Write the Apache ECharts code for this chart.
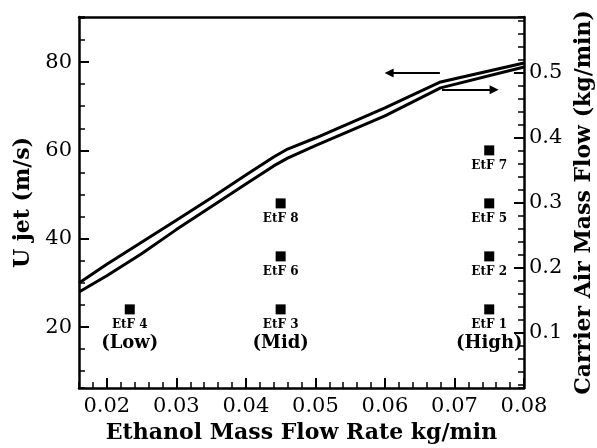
<!DOCTYPE html>
<html>
<head>
<meta charset="utf-8">
<script src="https://cdn.jsdelivr.net/npm/echarts@6/dist/echarts.min.js"></script>
<style>
html,body{margin:0;padding:0;background:#fff;}
#chart{width:597px;height:448px;}
</style>
</head>
<body>
<div id="chart"></div>
<script>
// ---- data ----
var ethanolRate = [0.016, 0.02, 0.025, 0.03, 0.035, 0.04, 0.044, 0.046, 0.05, 0.06, 0.068, 0.08];
var uJet        = [30.0, 34.2, 39.2, 44.2, 49.2, 54.4, 58.5, 60.3, 62.8, 69.6, 75.5, 79.8];
var carrierAir  = [0.163, 0.188, 0.222, 0.259, 0.294, 0.329, 0.357, 0.369, 0.388, 0.434, 0.477, 0.509];

var caseNames  = ['EtF 4', 'EtF 3', 'EtF 6', 'EtF 8', 'EtF 1', 'EtF 2', 'EtF 5', 'EtF 7'];
var caseX      = [0.0233, 0.045, 0.045, 0.045, 0.075, 0.075, 0.075, 0.075];
var caseUJet   = [24, 24, 36, 48, 24, 36, 48, 60];
var caseGroup  = ['(Low)', '(Mid)', '', '', '(High)', '', '', ''];

var leftArrowX  = [0.0679, 0.0606];
var leftArrowY  = 77.5;
var rightArrowX = [0.0682, 0.0757];
var rightArrowY = 0.474;

var xRange     = [0.016, 0.08];
var leftRange  = [6.2, 90.2];
var rightRange = [0.0154, 0.586];

var xTitle     = 'Ethanol Mass Flow Rate kg/min';
var leftTitle  = 'U jet (m/s)';
var rightTitle = 'Carrier Air Mass Flow (kg/min)';

// ---- chart ----
var FONT = 'DejaVu Serif';
var chart = echarts.init(document.getElementById('chart'), null, {renderer: 'canvas'});

function lineData(xs, ys) { return xs.map(function (x, i) { return [x, ys[i]]; }); }

var scatterData = caseX.map(function (x, i) {
  return { value: [x, caseUJet[i]], name: caseNames[i], group: caseGroup[i] };
});

var labelStyle = {color: '#000', fontFamily: FONT, fontSize: 21};
var nameStyle = {color: '#000', fontFamily: FONT, fontSize: 22, fontWeight: 'bold'};
var axLine = {show: true, lineStyle: {color: '#000', width: 2.5}};

var option = {
  backgroundColor: '#fff',
  animation: false,
  grid: {left: 79, right: 73, top: 17, bottom: 60, containLabel: false, outerBoundsMode: 'none'},
  xAxis: [
    {
      type: 'value', position: 'bottom', min: xRange[0], max: xRange[1], splitNumber: 5,
      axisLine: axLine,
      axisTick: {show: true, inside: true, length: 10, lineStyle: {color: '#000', width: 2}},
      axisLabel: Object.assign({margin: 8, showMinLabel: false, showMaxLabel: true}, labelStyle),
      splitLine: {show: false},
      name: xTitle, nameLocation: 'middle', nameGap: 31, nameTextStyle: nameStyle
    },
    {
      type: 'value', position: 'top', min: xRange[0], max: xRange[1],
      axisLine: axLine, axisTick: {show: false}, axisLabel: {show: false}, splitLine: {show: false}
    },
    {
      type: 'value', position: 'bottom', min: xRange[0], max: xRange[1], splitNumber: 32,
      axisLine: {show: false},
      axisTick: {show: true, inside: true, length: 6, lineStyle: {color: '#000', width: 1.5}},
      axisLabel: {show: false}, splitLine: {show: false}
    }
  ],
  yAxis: [
    {
      type: 'value', position: 'left', min: leftRange[0], max: leftRange[1], splitNumber: 5,
      axisLine: axLine,
      axisTick: {show: true, inside: true, length: 10, lineStyle: {color: '#000', width: 2}},
      axisLabel: Object.assign({margin: 7, showMinLabel: false, showMaxLabel: false}, labelStyle),
      splitLine: {show: false},
      name: leftTitle, nameLocation: 'middle', nameRotate: 90, nameGap: 45, nameTextStyle: nameStyle
    },
    {
      type: 'value', position: 'right', min: rightRange[0], max: rightRange[1], splitNumber: 5,
      axisLine: axLine,
      axisTick: {show: true, inside: true, length: 10, lineStyle: {color: '#000', width: 2}},
      axisLabel: Object.assign({margin: 5, showMinLabel: false, showMaxLabel: false}, labelStyle),
      splitLine: {show: false},
      name: rightTitle, nameLocation: 'middle', nameRotate: 90, nameGap: 48, nameTextStyle: nameStyle
    },
    {
      type: 'value', position: 'left', min: leftRange[0], max: leftRange[1], splitNumber: 16,
      axisLine: {show: false},
      axisTick: {show: true, inside: true, length: 6, lineStyle: {color: '#000', width: 1.5}},
      axisLabel: {show: false}, splitLine: {show: false}
    },
    {
      type: 'value', position: 'right', min: rightRange[0], max: rightRange[1], splitNumber: 29,
      axisLine: {show: false},
      axisTick: {show: true, inside: true, length: 6, lineStyle: {color: '#000', width: 1.5}},
      axisLabel: {show: false}, splitLine: {show: false}
    }
  ],
  series: [
    {
      type: 'line', name: 'U jet', xAxisIndex: 0, yAxisIndex: 0,
      data: lineData(ethanolRate, uJet), showSymbol: false, symbol: 'none',
      lineStyle: {color: '#000', width: 3}, z: 3,
      markLine: {
        silent: true, symbol: ['none', 'triangle'], symbolSize: 9,
        label: {show: false}, lineStyle: {color: '#000', width: 2, type: 'solid'},
        data: [[{coord: [leftArrowX[0], leftArrowY]}, {coord: [leftArrowX[1], leftArrowY]}]]
      }
    },
    {
      type: 'line', name: 'Carrier Air', xAxisIndex: 0, yAxisIndex: 1,
      data: lineData(ethanolRate, carrierAir), showSymbol: false, symbol: 'none',
      lineStyle: {color: '#000', width: 3}, z: 3,
      markLine: {
        silent: true, symbol: ['none', 'triangle'], symbolSize: 9,
        label: {show: false}, lineStyle: {color: '#000', width: 2, type: 'solid'},
        data: [[{coord: [rightArrowX[0], rightArrowY]}, {coord: [rightArrowX[1], rightArrowY]}]]
      }
    },
    {
      type: 'scatter', name: 'Cases', xAxisIndex: 0, yAxisIndex: 0,
      data: scatterData, symbol: 'rect', symbolSize: 10,
      itemStyle: {color: '#000', opacity: 1},
      label: {
        show: true, position: 'bottom', distance: 3, opacity: 1, color: '#000',
        formatter: function (p) {
          var s = '{a|' + p.data.name + '}';
          if (p.data.group) s += '\n{b|' + p.data.group + '}';
          return s;
        },
        rich: {
          a: {fontFamily: FONT, fontSize: 12, fontWeight: 'bold', color: '#000', lineHeight: 15, align: 'center'},
          b: {fontFamily: FONT, fontSize: 18, fontWeight: 'bold', color: '#000', lineHeight: 22, align: 'center'}
        }
      }
    }
  ]
};
chart.setOption(option);
</script>
</body>
</html>
